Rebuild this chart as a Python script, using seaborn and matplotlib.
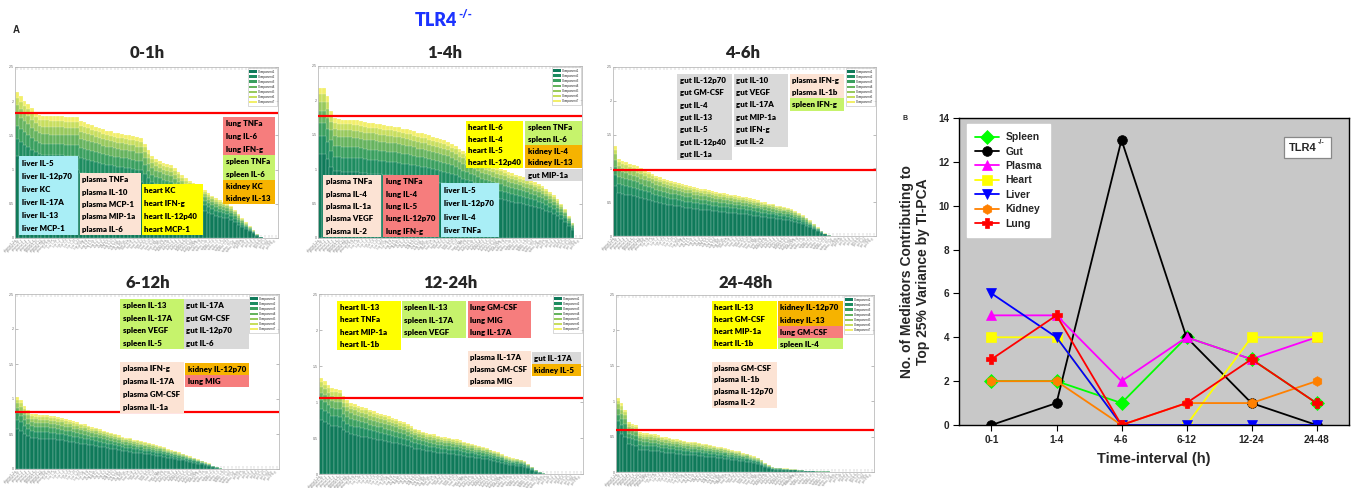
import numpy as np
import matplotlib
matplotlib.use('Agg')
import matplotlib.pyplot as plt
import seaborn as sns
from matplotlib.patches import Rectangle, Patch
from matplotlib import font_manager as fm

# ---------------- data ----------------
intervals = ['0-1h', '1-4h', '4-6h', '6-12h', '12-24h', '24-48h']
components = ['Component1', 'Component2', 'Component3', 'Component4',
              'Component5', 'Component6', 'Component7']
comp_share = [0.56, 0.12, 0.09, 0.08, 0.06, 0.05, 0.04]

tot_0_1 = [2.13, 2.07, 2.01, 1.96, 1.90, 1.84, 1.80, 1.79, 1.79, 1.78, 1.78, 1.78, 1.78, 1.77,
           1.77, 1.77, 1.77, 1.71, 1.69, 1.67, 1.65, 1.63, 1.61, 1.59, 1.57, 1.56, 1.54, 1.53,
           1.52, 1.51, 1.50, 1.49, 1.47, 1.46, 1.38, 1.28, 1.20, 1.16, 1.13, 1.10, 1.08, 1.06,
           1.02, 0.97, 0.92, 0.87, 0.83, 0.80, 0.77, 0.74, 0.70, 0.66, 0.62, 0.58, 0.55, 0.53,
           0.51, 0.47, 0.41, 0.35, 0.29, 0.23, 0.17, 0.12, 0.06, 0.02, 0, 0, 0, 0]
tot_1_4 = [2.18, 2.18, 2.06, 1.85, 1.74, 1.73, 1.72, 1.72, 1.72, 1.71, 1.71, 1.70, 1.68, 1.67,
           1.67, 1.66, 1.65, 1.64, 1.63, 1.63, 1.62, 1.61, 1.59, 1.58, 1.57, 1.55, 1.53, 1.52,
           1.51, 1.49, 1.47, 1.46, 1.44, 1.42, 1.40, 1.37, 1.34, 1.30, 1.27, 1.24, 1.21, 1.18,
           1.15, 1.12, 1.09, 1.07, 1.05, 1.03, 1.01, 0.99, 0.96, 0.94, 0.92, 0.90, 0.88, 0.86,
           0.84, 0.81, 0.78, 0.75, 0.71, 0.67, 0.62, 0.56, 0.50, 0.42, 0.32, 0.22, 0, 0]
tot_4_6 = [1.33, 1.14, 1.11, 1.09, 1.07, 1.05, 1.03, 1.00, 0.97, 0.95, 0.92, 0.89, 0.87, 0.85,
           0.83, 0.81, 0.80, 0.78, 0.77, 0.75, 0.74, 0.72, 0.71, 0.70, 0.69, 0.68, 0.66, 0.65,
           0.64, 0.63, 0.62, 0.61, 0.60, 0.59, 0.58, 0.57, 0.56, 0.54, 0.53, 0.51, 0.50, 0.48,
           0.47, 0.45, 0.44, 0.43, 0.42, 0.40, 0.37, 0.34, 0.31, 0.27, 0.23, 0.18, 0.13, 0.08,
           0.04, 0.01, 0, 0, 0, 0, 0, 0, 0, 0, 0, 0, 0, 0]
tot_6_12 = [1.03, 0.98, 0.90, 0.84, 0.79, 0.78, 0.77, 0.77, 0.77, 0.76, 0.76, 0.74, 0.73, 0.71,
            0.70, 0.68, 0.67, 0.65, 0.64, 0.62, 0.60, 0.59, 0.57, 0.55, 0.53, 0.52, 0.50, 0.48,
            0.46, 0.45, 0.44, 0.42, 0.41, 0.40, 0.38, 0.37, 0.36, 0.34, 0.33, 0.31, 0.29, 0.27,
            0.26, 0.24, 0.22, 0.20, 0.18, 0.16, 0.14, 0.12, 0.10, 0.08, 0.05, 0.03, 0.01,
            0, 0, 0, 0, 0, 0, 0, 0, 0, 0, 0, 0, 0, 0, 0]
tot_12_24 = [1.33, 1.29, 1.24, 1.19, 1.18, 1.17, 1.09, 1.03, 0.99, 0.97, 0.95, 0.93, 0.92, 0.89,
             0.87, 0.85, 0.84, 0.82, 0.80, 0.78, 0.76, 0.74, 0.72, 0.69, 0.66, 0.63, 0.61, 0.59,
             0.57, 0.56, 0.55, 0.53, 0.52, 0.51, 0.50, 0.49, 0.48, 0.47, 0.45, 0.43, 0.42, 0.40,
             0.39, 0.37, 0.36, 0.34, 0.32, 0.30, 0.28, 0.25, 0.23, 0.22, 0.21, 0.20, 0.18, 0.14,
             0.10, 0.06, 0.03, 0.01, 0, 0, 0, 0, 0, 0, 0, 0, 0, 0]
tot_24_48 = [1.05, 0.97, 0.88, 0.70, 0.68, 0.66, 0.56, 0.55, 0.55, 0.54, 0.53, 0.52, 0.50, 0.49,
             0.48, 0.47, 0.46, 0.45, 0.44, 0.43, 0.42, 0.42, 0.41, 0.40, 0.39, 0.38, 0.37, 0.36,
             0.35, 0.34, 0.32, 0.31, 0.30, 0.29, 0.27, 0.26, 0.24, 0.22, 0.20, 0.17, 0.13, 0.10,
             0.07, 0.06, 0.06, 0.05, 0.05, 0.04, 0.04, 0.03, 0.03, 0.02, 0.02, 0.02, 0.01, 0.01,
             0.01, 0.01, 0, 0, 0, 0, 0, 0, 0, 0, 0, 0, 0, 0]
totals = [tot_0_1, tot_1_4, tot_4_6, tot_6_12, tot_12_24, tot_24_48]
threshold = [1.83, 1.77, 0.97, 0.81, 1.05, 0.59]

tick_organs = ['plasma', 'liver', 'lung', 'heart', 'kidney', 'spleen', 'gut']
tick_mediators = ['IL-1a', 'IL-1b', 'IL-2', 'IL-4', 'IL-5', 'IL-6', 'IL-10', 'IL-13', 'TNFa', 'IFN-g']
tick_names = [f'{o} {m}' for o in tick_organs for m in tick_mediators]

# labelled mediators (text boxes)
labels_0_1 = [('liver', ['IL-5', 'IL-12p70', 'KC', 'IL-17A', 'IL-13', 'MCP-1']),
              ('plasma', ['TNFa', 'IL-10', 'MCP-1', 'MIP-1a', 'IL-6']),
              ('heart', ['KC', 'IFN-g', 'IL-12p40', 'MCP-1']),
              ('lung', ['TNFa', 'IL-6', 'IFN-g']),
              ('spleen', ['TNFa', 'IL-6']),
              ('kidney', ['KC', 'IL-13'])]
labels_1_4 = [('plasma', ['TNFa', 'IL-4', 'IL-1a', 'VEGF', 'IL-2']),
              ('lung', ['TNFa', 'IL-4', 'IL-5', 'IL-12p70', 'IFN-g']),
              ('liver', ['IL-5', 'IL-12p70', 'IL-4', 'TNFa']),
              ('heart', ['IL-6', 'IL-4', 'IL-5', 'IL-12p40']),
              ('spleen', ['TNFa', 'IL-6']),
              ('kidney', ['IL-4', 'IL-13']),
              ('gut', ['MIP-1a'])]
labels_4_6 = [('gut', ['IL-12p70', 'GM-CSF', 'IL-4', 'IL-13', 'IL-5', 'IL-12p40', 'IL-1a']),
              ('gut', ['IL-10', 'VEGF', 'IL-17A', 'MIP-1a', 'IFN-g', 'IL-2']),
              ('plasma', ['IFN-g', 'IL-1b']),
              ('spleen', ['IFN-g'])]
labels_6_12 = [('spleen', ['IL-13', 'IL-17A', 'VEGF', 'IL-5']),
               ('gut', ['IL-17A', 'GM-CSF', 'IL-12p70', 'IL-6']),
               ('plasma', ['IFN-g', 'IL-17A', 'GM-CSF', 'IL-1a']),
               ('kidney', ['IL-12p70']),
               ('lung', ['MIG'])]
labels_12_24 = [('heart', ['IL-13', 'TNFa', 'MIP-1a', 'IL-1b']),
                ('spleen', ['IL-13', 'IL-17A', 'VEGF']),
                ('lung', ['GM-CSF', 'MIG', 'IL-17A']),
                ('plasma', ['IL-17A', 'GM-CSF', 'MIG']),
                ('gut', ['IL-17A']),
                ('kidney', ['IL-5'])]
labels_24_48 = [('heart', ['IL-13', 'GM-CSF', 'MIP-1a', 'IL-1b']),
                ('kidney', ['IL-12p70', 'IL-13']),
                ('lung', ['GM-CSF']),
                ('spleen', ['IL-4']),
                ('plasma', ['GM-CSF', 'IL-1b', 'IL-12p70', 'IL-2'])]
panel_labels = [labels_0_1, labels_1_4, labels_4_6, labels_6_12, labels_12_24, labels_24_48]

# Panel B data
time_labels = ['0-1', '1-4', '4-6', '6-12', '12-24', '24-48']
organs = ['Spleen', 'Gut', 'Plasma', 'Heart', 'Liver', 'Kidney', 'Lung']
spleen = [2, 2, 1, 4, 3, 1]
gut = [0, 1, 13, 4, 1, 0]
plasma = [5, 5, 2, 4, 3, 4]
heart = [4, 4, 0, 0, 4, 4]
liver = [6, 4, 0, 0, 0, 0]
kidney = [2, 2, 0, 1, 1, 2]
lung = [3, 5, 0, 1, 3, 1]
organ_series = [spleen, gut, plasma, heart, liver, kidney, lung]

# ---------------- styles / layout ----------------
sns.set_theme(style='white')
names = {f.name for f in fm.fontManager.ttflist}
BOXFONT = 'Liberation Sans Narrow' if 'Liberation Sans Narrow' in names else 'Lato'
BOXSIZE = 6.4 if BOXFONT == 'Liberation Sans Narrow' else 5.7
plt.rcParams['font.family'] = ['Liberation Sans', 'DejaVu Sans']

comp_colors = ['#0f7a5a', '#1d8c60', '#3a9f5f', '#66b35e', '#98c95d', '#c8de5e', '#f2ef6a']
organ_box_colors = {'liver': '#a9eef6', 'plasma': '#fce3d4', 'heart': '#ffff00',
                    'lung': '#f67d7d', 'spleen': '#c6f36c', 'kidney': '#f6b300',
                    'gut': '#d9d9d9'}
line_colors = ['#00ff00', '#000000', '#ff00ff', '#ffff00', '#0000ff', '#ff8000', '#ff0000']
line_markers = ['D', 'o', '^', 's', 'v', 'h', 'P']

W, H = 1353, 488
fig = plt.figure(figsize=(W / 100, H / 100), dpi=100)


def px_axes(l, t, r, b):
    return fig.add_axes([l / W, 1 - b / H, (r - l) / W, (b - t) / H])


axes_px = [(15, 67, 278, 238), (318, 66, 582, 238), (613, 67, 876, 236),
           (15, 294, 279, 469), (319, 294, 583, 474), (616, 295, 874, 472)]
title_px = [(147, 53), (445, 53), (743, 53), (148, 283), (450, 283), (746, 283)]
box_px = [
    [(19, 156, 78, 235), (80, 173, 141, 235), (142, 184, 203, 235),
     (223, 117, 275, 155), (223, 155, 275, 180), (223, 180, 275, 204)],
    [(323, 175, 381, 237), (383, 175, 439, 237), (441, 183, 499, 237),
     (466, 121, 523, 168), (525, 121, 582, 145), (525, 145, 582, 168), (525, 169, 582, 181)],
    [(677, 74, 732, 160), (734, 74, 788, 147), (790, 74, 844, 98), (790, 98, 844, 111)],
    [(120, 299, 184, 349), (184, 299, 249, 349), (120, 362, 184, 413),
     (185, 363, 249, 375), (185, 375, 249, 387)],
    [(337, 301, 401, 350), (402, 301, 466, 338), (468, 301, 531, 338),
     (468, 351, 531, 387), (532, 352, 581, 364), (532, 364, 581, 376)],
    [(712, 301, 777, 349), (778, 301, 843, 326), (778, 326, 843, 338),
     (778, 338, 843, 349), (712, 362, 777, 408)],
]

cum_shares = np.cumsum(comp_share)

for p in range(6):
    ax = px_axes(*axes_px[p])
    tot = np.array(totals[p])
    idx = np.arange(len(tot))
    for k in range(6, -1, -1):
        sns.barplot(x=idx, y=tot * cum_shares[k], color=comp_colors[k], saturation=1,
                    width=1.0, edgecolor='white', linewidth=0.15, errorbar=None, ax=ax)
    ax.axhline(threshold[p], color='#ff0000', lw=1.6, zorder=5)
    ax.set_ylim(0, 2.5)
    ax.set_xlim(-0.5, len(tot) - 0.5)
    ax.set_xlabel('')
    ax.set_ylabel('')
    ax.set_xticks(idx)
    ax.set_xticklabels(tick_names[:len(tot)], rotation=45, ha='right',
                       fontsize=2, color='#888888')
    ax.set_yticks([0, 0.5, 1, 1.5, 2, 2.5])
    ax.set_yticklabels(['0', '0.5', '1', '1.5', '2', '2.5'], fontsize=2.6, color='#666666')
    ax.tick_params(axis='x', which='both', top=True, bottom=True, direction='in',
                   length=2, width=0.3, color='#aaaaaa', pad=0.5)
    ax.tick_params(axis='y', left=True, right=True, direction='in',
                   length=2, width=0.4, color='#888888', pad=1)
    for s in ax.spines.values():
        s.set_color('#bbbbbb')
        s.set_linewidth(0.6)
    handles = [Patch(facecolor=c, edgecolor='none') for c in comp_colors]
    leg = ax.legend(handles, components, loc='upper right', fontsize=2.2, frameon=True,
                    borderpad=0.5, labelspacing=0.35, handlelength=2.4, handleheight=1.0,
                    handletextpad=0.4, borderaxespad=0.4, fancybox=False)
    leg.get_frame().set_edgecolor('#aaaaaa')
    leg.get_frame().set_linewidth(0.4)
    # title
    tx, ty = title_px[p]
    fig.text(tx / W, 1 - ty / H, intervals[p], ha='center', va='center', fontsize=12,
             fontweight='heavy', family=['Lato', 'DejaVu Sans'])
    # text boxes
    for (organ, meds), (x0, y0, x1, y1) in zip(panel_labels[p], box_px[p]):
        fig.add_artist(Rectangle((x0 / W, 1 - y1 / H), (x1 - x0) / W, (y1 - y0) / H,
                                 transform=fig.transFigure, facecolor=organ_box_colors[organ],
                                 edgecolor='none', zorder=5))
        n = len(meds)
        lh = (y1 - y0) / n
        for i, m in enumerate(meds):
            fig.text((x0 + 2.5) / W, 1 - (y0 + (i + 0.5) * lh + 0.5) / H, f'{organ} {m}',
                     ha='left', va='center', fontsize=BOXSIZE, fontweight='heavy',
                     family=[BOXFONT, 'DejaVu Sans'], color='#000000', zorder=6)

# main title with superscript drawn as separate text
fig.text(457 / W, 1 - 20 / H, 'TLR4', ha='right', va='center', fontsize=13,
         fontweight='heavy', color='#1c33ff', family=['Lato', 'DejaVu Sans'])
fig.text(458 / W, 1 - 14 / H, '-/-', ha='left', va='center', fontsize=8,
         fontweight='heavy', color='#1c33ff', family=['Lato', 'DejaVu Sans'])
fig.text(16 / W, 1 - 30 / H, 'A', ha='center', va='center', fontsize=7, fontweight='bold')

# ---------------- Panel B ----------------
axB = px_axes(959, 118, 1349, 425)
axB.set_facecolor('#c8c8c8')
xs = np.arange(len(time_labels))
for name, vals, c, m in zip(organs, organ_series, line_colors, line_markers):
    sns.lineplot(x=xs, y=vals, color=c, marker=m, markersize=7 if m != 'P' else 7,
                 markeredgecolor=c, markeredgewidth=0.5, linewidth=1.3,
                 label=name, ax=axB)
axB.set_xlim(-0.5, 5.5)
axB.set_ylim(0, 14)
axB.set_xticks(xs)
axB.set_xticklabels(time_labels)
axB.set_yticks(range(0, 15, 2))
for lab in axB.get_xticklabels() + axB.get_yticklabels():
    lab.set_fontweight('bold')
    lab.set_fontsize(7.2)
axB.tick_params(axis='both', direction='out', length=4, width=0.8, bottom=True, left=True,
                color='black', pad=3)
for s in axB.spines.values():
    s.set_color('black')
    s.set_linewidth(1.0)
axB.set_xlabel('Time-interval (h)', fontsize=10.5, fontweight='bold', labelpad=5)
axB.set_ylabel('No. of Mediators Contributing to\nTop 25% Variance by TI-PCA',
               fontsize=10, fontweight='bold', labelpad=6, linespacing=1.15)
legB = axB.legend(loc='upper left', bbox_to_anchor=(8 / 390, 1 - 6 / 307), borderaxespad=0,
                  fontsize=7.5, frameon=True, fancybox=False, framealpha=1,
                  labelspacing=0.42, handlelength=2.3, borderpad=0.8, handletextpad=0.6)
legB.get_frame().set_facecolor('white')
legB.get_frame().set_edgecolor('white')
for t in legB.get_texts():
    t.set_fontweight('bold')
# TLR4-/- box in panel B
bx0, by0, bx1, by1 = 1284, 137, 1331, 158
axB.add_patch(Rectangle(((bx0 - 959) / 390, 1 - (by1 - 118) / 307), (bx1 - bx0) / 390,
                        (by1 - by0) / 307, transform=axB.transAxes, facecolor='white',
                        edgecolor='#888888', lw=0.9, zorder=6))
axB.text((1317 - 959) / 390, 1 - (148 - 118) / 307, 'TLR4', transform=axB.transAxes,
         ha='right', va='center', fontsize=8, fontweight='bold', zorder=7)
axB.text((1317.5 - 959) / 390, 1 - (143 - 118) / 307, '-/-', transform=axB.transAxes,
         ha='left', va='center', fontsize=5, fontweight='bold', zorder=7)
fig.text(905 / W, 1 - 118 / H, 'B', ha='center', va='center', fontsize=5, fontweight='bold')

fig.savefig('out.png', dpi=100)
